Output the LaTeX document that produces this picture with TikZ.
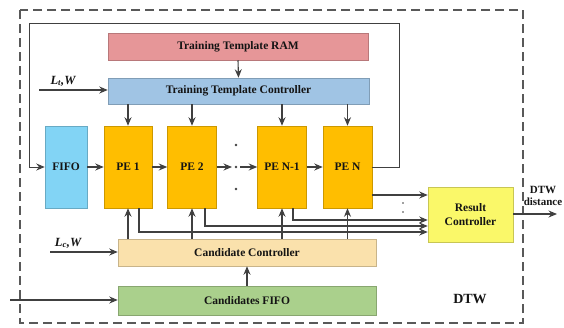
\documentclass[tikz,border=0pt]{standalone}
\usepackage{fontspec}
\setmainfont{Liberation Serif}
\usetikzlibrary{arrows.meta}
\definecolor{ramc}{RGB}{230,150,152}
\definecolor{ttcc}{RGB}{160,196,228}
\definecolor{fifoc}{RGB}{130,212,245}
\definecolor{pec}{RGB}{255,190,0}
\definecolor{rcc}{RGB}{250,248,105}
\definecolor{ccc}{RGB}{250,225,172}
\definecolor{cfc}{RGB}{170,208,140}
\definecolor{linec}{RGB}{64,64,64}
\tikzset{
 blk/.style={draw=#1!80!black, fill=#1, line width=0.5pt, inner sep=0pt,
   font=\fontsize{11.5}{13}\selectfont\bfseries, text=black!92},
 conn/.style={draw=linec, line width=1.1pt, -{Stealth[length=8.5pt,width=7pt]}},
 dashbox/.style={draw=black!65, line width=1.4pt, dash pattern=on 9pt off 5pt},
 lbl/.style={font=\fontsize{12}{14}\selectfont\bfseries, text=black!92, inner sep=0pt},
 dotc/.style={fill=linec}
}
\begin{document}
\begin{tikzpicture}[x=1pt,y=-1pt]
\useasboundingbox (0,0) rectangle (564,327);
% outer dashed box
\draw[dashbox] (20,10) rectangle (523,323);

% blocks
\node[blk=ramc, minimum width=260pt, minimum height=27pt] (ram) at (238,46.5) {Training Template RAM};
\node[blk=ttcc, minimum width=261pt, minimum height=26pt] (ttc) at (238.5,91) {Training Template Controller};
\node[blk=fifoc, minimum width=42pt, minimum height=82pt] (fifo) at (66,167) {FIFO};
\node[blk=pec, minimum width=48pt, minimum height=82pt] (pe1) at (128,167) {PE 1};
\node[blk=pec, minimum width=49pt, minimum height=82pt] (pe2) at (192,167) {PE 2};
\node[blk=pec, minimum width=49pt, minimum height=82pt] (pen1) at (282,167) {PE N-1};
\node[blk=pec, minimum width=49pt, minimum height=82pt] (pen) at (347.5,167) {PE N};
\node[blk=rcc, minimum width=85pt, minimum height=55pt, align=center] (rc) at (470.5,214.5) {Result\\[1pt]Controller};
\node[blk=ccc, minimum width=258pt, minimum height=27pt] (cc) at (247,252.5) {Candidate Controller};
\node[blk=cfc, minimum width=258pt, minimum height=29pt] (cf) at (247,300.5) {Candidates FIFO};

% labels
\node[lbl, font=\fontsize{12.5}{14}\selectfont\bfseries\itshape] (lt) at (63,81) {L\textsubscript{t},W};
\node[lbl, font=\fontsize{12.5}{14}\selectfont\bfseries\itshape] (lc) at (68,243) {L\textsubscript{c},W};
\node[lbl, font=\fontsize{14}{16}\selectfont\bfseries] (dtw) at (470,299) {DTW};
\node[lbl, font=\fontsize{11}{12.5}\selectfont\bfseries, align=center] (dd) at (543,196) {DTW\\distance};

% helper coordinates
\coordinate (ltS) at (39,90);
\coordinate (lcS) at (50,252);
\coordinate (cin) at (10,300);
\coordinate (fbR) at (399,23);
\coordinate (fbL) at (29,23);
\coordinate (x1) at (139,0);
\coordinate (x2) at (205,0);
\coordinate (x3) at (293,0);
\coordinate (y1) at (0,232);
\coordinate (y2) at (0,226);
\coordinate (y3) at (0,220);
\coordinate (y4) at (0,195);
\coordinate (out) at (557,214);
\coordinate (dL) at (232,167);
\coordinate (dR) at (240,167);

% input arrows
\draw[conn] (ltS) -- (ttc.west |- ltS);
\draw[conn] (lcS) -- (cc.west |- lcS);
\draw[conn] (cin) -- (cf.west |- cin);
\draw[conn] (ram.south) -- (ttc.north);
\draw[conn] (cf.north) -- (cc.south);

% controller to PEs
\foreach \p in {pe1,pe2,pen1,pen}{
  \draw[conn] (ttc.south -| \p) -- (\p.north);
  \draw[conn] (cc.north -| \p) -- (\p.south);
}

% chain
\draw[conn] (fifo.east) -- (pe1.west);
\draw[conn] (pe1.east) -- (pe2.west);
\draw[conn] (pe2.east) -- (dL);
\draw[conn] (dR) -- (pen1.west);
\draw[conn] (pen1.east) -- (pen.west);
\fill[dotc] (236,145) circle (1.3pt) (236,167) circle (1.3pt) (236,189) circle (1.3pt);

% feedback loop
\draw[conn, line width=1pt] (pen.east) -| (fbR) -| (fbL) |- (fifo.west);

% outputs to result controller
\draw[conn] (pen.east |- y4) -- (rc.west |- y4);
\draw[conn] (pen1.south -| x3) |- (rc.west |- y3);
\draw[conn] (pe2.south -| x2) |- (rc.west |- y2);
\draw[conn] (pe1.south -| x1) |- (rc.west |- y1);
\fill[dotc] (403,203) circle (0.9pt) (403,212) circle (0.9pt);

% result output
\draw[conn] (rc.east |- out) -- (out);
\end{tikzpicture}
\end{document}
